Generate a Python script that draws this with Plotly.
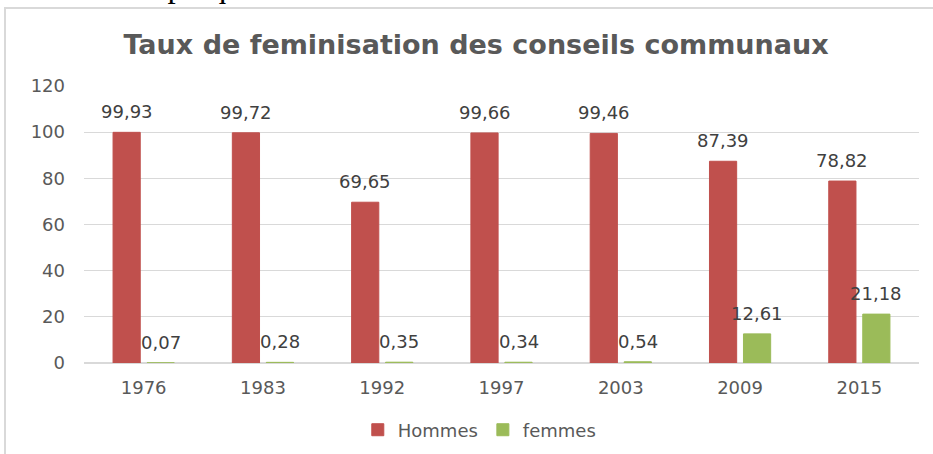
import plotly.graph_objects as go

years = ["1976", "1983", "1992", "1997", "2003", "2009", "2015"]
hommes = [99.93, 99.72, 69.65, 99.66, 99.46, 87.39, 78.82]
femmes = [0.07, 0.28, 0.35, 0.34, 0.54, 12.61, 21.18]
y_ticks = [0, 20, 40, 60, 80, 100, 120]

RED = "#C0504D"
GREEN = "#9BBB59"
FONT = "DejaVu Sans"

def fmt(v):
    return f"{v:.2f}".replace(".", ",")

fig = go.Figure()
fig.add_trace(go.Bar(x=years, y=hommes, name="Hommes", marker_color=RED,
                     marker_line=dict(color=RED, width=1)))
fig.add_trace(go.Bar(x=years, y=femmes, name="femmes", marker_color=GREEN,
                     marker_line=dict(color=GREEN, width=1)))

annotations = []
for i, (h, f) in enumerate(zip(hommes, femmes)):
    annotations.append(dict(x=i, y=h, xref="x", yref="y", text=fmt(h), showarrow=False,
                            xshift=-17, yanchor="bottom", yshift=8,
                            font=dict(family=FONT, size=18, color="#404040")))
    annotations.append(dict(x=i, y=f, xref="x", yref="y", text=fmt(f), showarrow=False,
                            xshift=17, yanchor="bottom", yshift=8,
                            font=dict(family=FONT, size=18, color="#404040")))

annotations.append(dict(x=0.508, y=1.2744, xref="paper", yref="paper", yanchor="bottom",
                        yshift=4,
                        text="Graphique : Taux de féminisation des conseils communaux",
                        showarrow=False,
                        font=dict(family="Liberation Serif", size=33, color="#000000")))

fig.update_layout(
    width=933, height=454,
    margin=dict(l=84, r=14, t=86, b=91, autoexpand=False),
    paper_bgcolor="white", plot_bgcolor="white",
    barmode="group", bargap=0.43, bargroupgap=0.2,
    title=dict(text="<b>Taux de feminisation des conseils communaux</b>",
               x=0.5102, xanchor="center", y=0.9009, yanchor="middle", yref="container",
               font=dict(family=FONT, size=27, color="#595959")),
    showlegend=True,
    legend=dict(orientation="h", x=0.474, xanchor="center", y=-0.242, yanchor="middle",
                font=dict(family=FONT, size=18, color="#595959")),
    annotations=annotations,
    shapes=[dict(type="rect", xref="paper", yref="paper", x0=-0.0946, x1=1.2, y0=-0.6, y1=1.2816,
                 line=dict(color="#D9D9D9", width=2), fillcolor="rgba(0,0,0,0)", layer="below")],
    font=dict(family=FONT),
)
fig.update_xaxes(showgrid=False, showline=False, ticks="", ticklabelstandoff=12,
                 automargin=False,
                 tickfont=dict(family=FONT, size=18, color="#595959"))
fig.update_yaxes(range=[0, 120], tickvals=y_ticks, showgrid=True, gridcolor="#D9D9D9",
                 zeroline=True, zerolinecolor="#D9D9D9", showline=False, ticks="",
                 ticklabelstandoff=18, automargin=False,
                 tickfont=dict(family=FONT, size=18, color="#595959"))

fig.write_html("out.html", config={"displayModeBar": False},
               post_script="document.body.style.margin='0';")
